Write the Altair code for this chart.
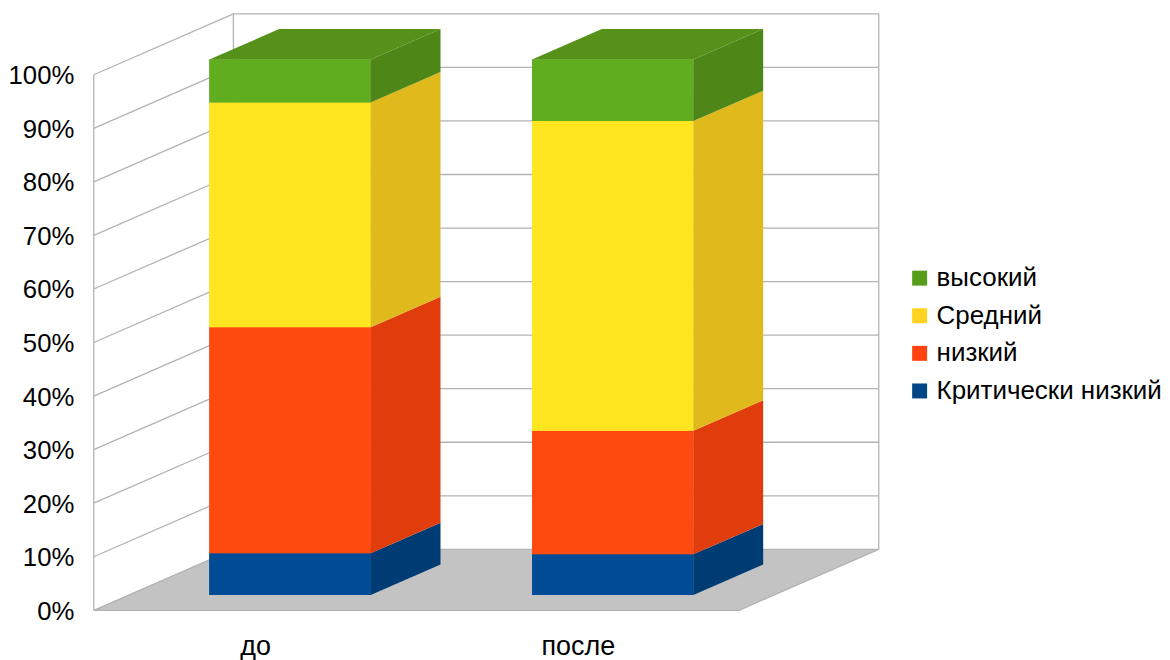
import altair as alt
import pandas as pd

categories = ["до", "после"]
series = ["Критически низкий", "низкий", "Средний", "высокий"]
values = {
    "до": [7.8, 42.2, 42.0, 8.0],
    "после": [7.6, 23.1, 57.8, 11.5],
}
legend_colors = ["#004586", "#ff420e", "#ffd320", "#579d1c"]
front_colors = ["#004b96", "#ff4a0f", "#ffe620", "#60ad20"]
side_colors = ["#003c74", "#e03c0c", "#e0b91c", "#4e8618"]
top_color = "#56921a"
ticks = list(range(0, 101, 10))

FONT = "Liberation Sans"
UNIT_X = 323.5          # pixels per category
UNIT_Y = 5.36           # pixels per percent
DX = 140 / UNIT_X       # full depth in category units
DY = 61 / UNIT_Y        # full depth in percent units
N = len(categories)
X_MAX = N + DX
Y_MAX = 100 + DY
BAR_D = 0.25            # depth of the front plane of the bars
BAR_LEN = 0.5           # depth share of the bars and width in categories

xs = alt.Scale(domain=[0, X_MAX], nice=False, zero=False)
ys = alt.Scale(domain=[0, Y_MAX], nice=False, zero=False)

X_AX = alt.Axis(values=[0.5, 1.5], labelExpr="datum.value < 1 ? 'до' : 'после'", title=None,
                domain=False, ticks=False, grid=False, labelFontSize=27, labelFont=FONT,
                labelColor="#000000", labelPadding=23, labelFlush=False, labelOverlap=False)
Y_AX = alt.Axis(values=ticks, labelExpr="datum.value + '%'", title=None, domain=False, ticks=False,
                grid=False, labelFontSize=25.8, labelFont=FONT, labelColor="#000000", labelOffset=1,
                labelPadding=20, minExtent=83, maxExtent=83, labelOverlap=False, labelFlush=False)

floor = pd.DataFrame({"y": [0, DY], "x": [0, DX], "x2": [N, N + DX]})
floor_layer = alt.Chart(floor).mark_area(orient="horizontal", color="#c3c3c3", line=False).encode(
    y=alt.Y("y:Q", scale=ys, axis=Y_AX),
    x=alt.X("x:Q", scale=xs, axis=X_AX),
    x2="x2:Q",
)

lines = []
for v in ticks:
    lines += [{"id": f"b{v}", "x": DX, "y": v + DY}, {"id": f"b{v}", "x": N + DX, "y": v + DY}]
    lines += [{"id": f"l{v}", "x": 0, "y": v}, {"id": f"l{v}", "x": DX, "y": v + DY}]
lines += [{"id": "v0", "x": 0, "y": 0}, {"id": "v0", "x": 0, "y": 100}]
lines += [{"id": "v1", "x": DX, "y": DY}, {"id": "v1", "x": DX, "y": 100 + DY}]
lines += [{"id": "v2", "x": N + DX, "y": DY}, {"id": "v2", "x": N + DX, "y": 100 + DY}]
lines += [{"id": "f", "x": 0, "y": 0}, {"id": "f", "x": N, "y": 0}]
lines += [{"id": "r", "x": N, "y": 0}, {"id": "r", "x": N + DX, "y": DY}]
line_layer = alt.Chart(pd.DataFrame(lines)).mark_line(color="#b3b3b3", strokeWidth=1.3).encode(
    x=alt.X("x:Q", scale=xs, axis=X_AX),
    y=alt.Y("y:Q", scale=ys, axis=Y_AX),
    detail="id:N",
)

front, side, top = [], [], []
for i, cat in enumerate(categories):
    x0 = i + 0.25 + BAR_D * DX
    x1 = x0 + BAR_LEN
    bd_x = BAR_LEN * DX
    bd_y = BAR_LEN * DY
    base_y = BAR_D * DY
    acc = 0.0
    for j, s in enumerate(series):
        lo, hi = acc, acc + values[cat][j]
        acc = hi
        front.append({"series": s, "x": x0, "x2": x1, "y": lo + base_y, "y2": hi + base_y, "fill": front_colors[j]})
        fid = f"{i}-{j}"
        side.append({"id": fid, "x": x1, "y": lo + base_y, "y2": hi + base_y, "fill": side_colors[j]})
        side.append({"id": fid, "x": x1 + bd_x, "y": lo + base_y + bd_y, "y2": hi + base_y + bd_y, "fill": side_colors[j]})
    top.append({"id": i, "y": acc + base_y, "x": x0, "x2": x1, "fill": top_color})
    top.append({"id": i, "y": acc + base_y + bd_y, "x": x0 + bd_x, "x2": x1 + bd_x, "fill": top_color})

front_df = pd.DataFrame(front)
legend_layer = alt.Chart(front_df).mark_bar().encode(
    x=alt.X("x:Q", scale=xs, axis=X_AX),
    x2="x2:Q",
    y=alt.Y("y:Q", scale=ys, axis=Y_AX, stack=None),
    y2="y2:Q",
    color=alt.Color(
        "series:N",
        scale=alt.Scale(domain=series, range=legend_colors),
        sort=series[::-1],
        legend=alt.Legend(
            title=None, orient="none", legendX=815, legendY=252, padding=0, labelFont=FONT, labelFontSize=26,
            labelColor="#000000", symbolType="square", symbolSize=225, symbolStrokeWidth=0,
            rowPadding=11.7, labelOffset=4, labelLimit=400, values=series[::-1],
        ),
    ),
)
front_layer = alt.Chart(front_df).mark_bar().encode(
    x=alt.X("x:Q", scale=xs, axis=X_AX),
    x2="x2:Q",
    y=alt.Y("y:Q", scale=ys, axis=Y_AX, stack=None),
    y2="y2:Q",
    fill=alt.Fill("fill:N", scale=None),
)
side_layer = alt.Chart(pd.DataFrame(side)).mark_area(orient="vertical", line=False).encode(
    x=alt.X("x:Q", scale=xs, axis=X_AX),
    y=alt.Y("y:Q", scale=ys, axis=Y_AX, stack=None),
    y2="y2:Q",
    fill=alt.Fill("fill:N", scale=None),
    detail="id:N",
)
top_layer = alt.Chart(pd.DataFrame(top)).mark_area(orient="horizontal", line=False).encode(
    y=alt.Y("y:Q", scale=ys, axis=Y_AX, stack=None),
    x=alt.X("x:Q", scale=xs, axis=X_AX),
    x2="x2:Q",
    fill=alt.Fill("fill:N", scale=None),
    detail="id:N",
)

chart = alt.layer(floor_layer, line_layer, legend_layer, front_layer, side_layer, top_layer).properties(
    width=787,
    height=598,
    padding={"left": 0, "top": 2, "right": 0, "bottom": 0},
    background="#ffffff",
).configure_view(stroke=None)

chart.save("out.html", embed_options={"renderer": "svg", "actions": False})
